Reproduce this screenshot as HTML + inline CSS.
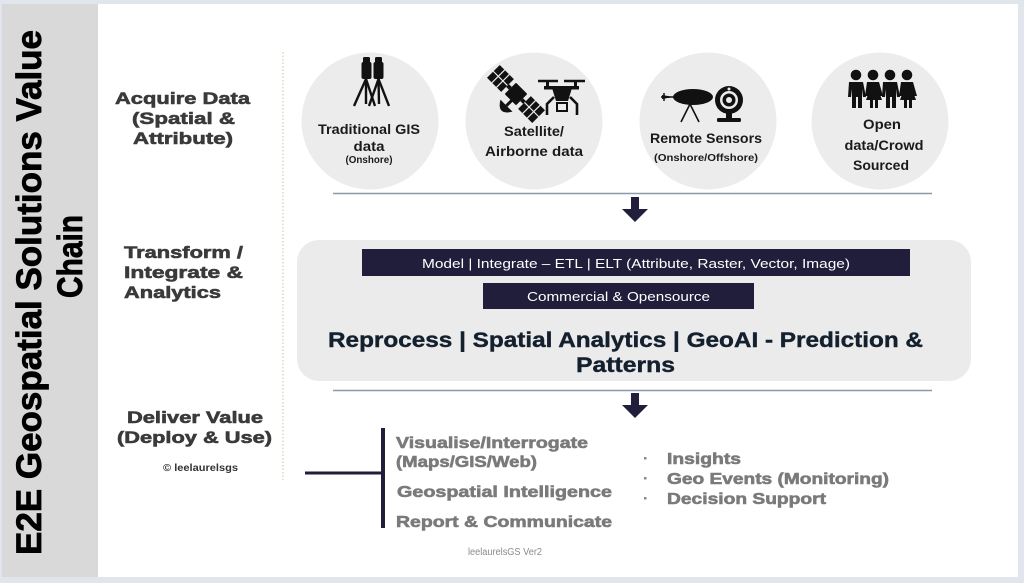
<!DOCTYPE html>
<html>
<head>
<meta charset="utf-8">
<style>
html,body{margin:0;padding:0;background:#e1e6ec;}
svg{display:block;}
text{font-family:"Liberation Sans",Arial,sans-serif;}
</style>
</head>
<body>
<svg width="1024" height="583" viewBox="0 0 1024 583" xmlns="http://www.w3.org/2000/svg">
  <!-- frame -->
  <rect x="0" y="0" width="1024" height="583" fill="#e1e6ec"/>
  <rect x="98" y="4" width="920" height="573" fill="#ffffff"/>
  <rect x="2" y="4" width="96" height="573" fill="#d9d9d9"/>

  <!-- vertical title -->
  <g fill="#000" stroke="#000" stroke-width="0.8">
  <text transform="translate(41,555) rotate(-90)" font-size="35" font-weight="bold" textLength="525" lengthAdjust="spacingAndGlyphs">E2E Geospatial Solutions Value</text>
  <text transform="translate(82,298) rotate(-90)" font-size="35" font-weight="bold" textLength="83" lengthAdjust="spacingAndGlyphs">Chain</text>
  </g>

  <!-- left labels -->
  <g font-size="17" font-weight="bold" fill="#3a3a3a" stroke="#3a3a3a" stroke-width="0.6">
    <text x="115" y="104" textLength="135" lengthAdjust="spacingAndGlyphs">Acquire Data</text>
    <text x="132" y="124" textLength="103" lengthAdjust="spacingAndGlyphs">(Spatial &amp;</text>
    <text x="133" y="144" textLength="100" lengthAdjust="spacingAndGlyphs">Attribute)</text>
    <text x="124" y="258" textLength="119" lengthAdjust="spacingAndGlyphs">Transform /</text>
    <text x="124" y="278" textLength="119" lengthAdjust="spacingAndGlyphs">Integrate &amp;</text>
    <text x="124" y="298" textLength="97" lengthAdjust="spacingAndGlyphs">Analytics</text>
    <text x="127" y="423" textLength="136" lengthAdjust="spacingAndGlyphs">Deliver Value</text>
    <text x="117" y="443" textLength="155" lengthAdjust="spacingAndGlyphs">(Deploy &amp; Use)</text>
  </g>
  <text x="163" y="471" font-size="10" font-weight="bold" fill="#333" textLength="75" lengthAdjust="spacingAndGlyphs">© leelaurelsgs</text>

  <!-- dotted divider -->
  <line x1="283" y1="52" x2="283" y2="480" stroke="#d5bf9e" stroke-width="1" stroke-dasharray="1.5 2"/>

  <!-- circles -->
  <g fill="#ececec">
    <circle cx="370" cy="121" r="68.5"/>
    <circle cx="534" cy="121" r="68.5"/>
    <circle cx="708" cy="121" r="68.5"/>
    <circle cx="880" cy="121" r="68.5"/>
  </g>

  <!-- icon 1: survey tripods -->
  <g fill="#111" stroke="#111">
    <rect x="363" y="57" width="7" height="6" rx="1.5" stroke="none"/>
    <rect x="361.5" y="62" width="10" height="17" rx="2" stroke="none"/>
    <rect x="375" y="57" width="7" height="6" rx="1.5" stroke="none"/>
    <rect x="373.5" y="62" width="10" height="17" rx="2" stroke="none"/>
    <g stroke-width="2.4" fill="none">
      <line x1="366" y1="79" x2="354" y2="106"/>
      <line x1="366" y1="79" x2="366" y2="104"/>
      <line x1="366" y1="79" x2="375" y2="106"/>
      <line x1="378.5" y1="79" x2="369" y2="106"/>
      <line x1="378.5" y1="79" x2="379" y2="104"/>
      <line x1="378.5" y1="79" x2="389" y2="106"/>
    </g>
  </g>

  <!-- icon 2: satellite + drone -->
  <g transform="translate(516,94) rotate(45)" fill="#111">
    <rect x="-32" y="-9" width="20" height="18"/>
    <g stroke="#ececec" stroke-width="1.2">
      <line x1="-25" y1="-9" x2="-25" y2="9"/>
      <line x1="-18.5" y1="-9" x2="-18.5" y2="9"/>
      <line x1="-32" y1="0" x2="-12" y2="0"/>
    </g>
    <rect x="-12" y="-2" width="4" height="4"/>
    <rect x="-8" y="-8" width="16" height="16" rx="1"/>
    <rect x="8" y="-2" width="4" height="4"/>
    <rect x="12" y="-9" width="20" height="18"/>
    <g stroke="#ececec" stroke-width="1.2">
      <line x1="18.5" y1="-9" x2="18.5" y2="9"/>
      <line x1="25" y1="-9" x2="25" y2="9"/>
      <line x1="12" y1="0" x2="32" y2="0"/>
    </g>
    <rect x="0" y="7" width="3" height="8"/>
    <path d="M-7,15 Q1.5,29 10,15 Z"/>
  </g>
  <g fill="#111" stroke="#111">
    <line x1="538" y1="81" x2="558" y2="81" stroke-width="2.5"/>
    <line x1="564" y1="81" x2="585" y2="81" stroke-width="2.5"/>
    <rect x="546" y="81" width="3" height="6" stroke="none"/>
    <rect x="574" y="81" width="3" height="6" stroke="none"/>
    <rect x="544" y="86" width="35" height="3.5" stroke="none"/>
    <path d="M552,88 L572,88 L568,101 L556,101 Z" stroke="none"/>
    <g stroke-width="2.6" fill="none">
      <path d="M554,97 L547,104 L547,115"/>
      <path d="M570,97 L577,104 L577,115"/>
    </g>
    <rect x="557" y="103" width="10" height="8" fill="none" stroke-width="2"/>
  </g>

  <!-- icon 3: sensor + webcam -->
  <g fill="#111" stroke="#111">
    <ellipse cx="693" cy="97" rx="20" ry="8" stroke="none"/>
    <path d="M674,97 L662,95 L662,99 Z" stroke="none"/>
    <line x1="661" y1="97" x2="675" y2="97" stroke-width="1.5"/>
    <line x1="664" y1="93" x2="664" y2="101" stroke-width="1.5"/>
    <g stroke-width="1.6">
      <line x1="690" y1="104" x2="681" y2="122"/>
      <line x1="690" y1="104" x2="699" y2="122"/>
    </g>
    <circle cx="729" cy="100" r="14" stroke="none"/>
    <circle cx="729" cy="100" r="9" fill="#ececec" stroke="none"/>
    <circle cx="729" cy="100" r="6.5" stroke="none"/>
    <circle cx="729" cy="100" r="3" fill="#ececec" stroke="none"/>
    <circle cx="729" cy="89" r="1.5" fill="#ececec" stroke="none"/>
    <rect x="726" y="113" width="6" height="6" stroke="none"/>
    <rect x="717" y="118" width="24" height="4" rx="1.5" stroke="none"/>
  </g>

  <!-- icon 4: people -->
  <g fill="#111">
    <circle cx="856" cy="75" r="5.3"/>
    <circle cx="873" cy="75" r="5.3"/>
    <circle cx="890" cy="75" r="5.3"/>
    <circle cx="907" cy="75" r="5.3"/>
    <path d="M849,82 h14 l3,15 h-3 l-1,-8 v19 h-4 v-11 h-2 v11 h-4 v-19 l-1,8 h-3 z"/>
    <path d="M867,82 h12 l4,14 h-3 l-2,-7 l4,11 h-4 v8 h-3 v-8 h-2 v8 h-3 v-8 h-4 l4,-11 l-2,7 h-3 z"/>
    <path d="M883,82 h14 l3,15 h-3 l-1,-8 v19 h-4 v-11 h-2 v11 h-4 v-19 l-1,8 h-3 z"/>
    <path d="M901,82 h12 l4,14 h-3 l-2,-7 l4,11 h-4 v8 h-3 v-8 h-2 v8 h-3 v-8 h-4 l4,-11 l-2,7 h-3 z"/>
  </g>

  <!-- circle labels -->
  <g font-size="14" font-weight="bold" fill="#1a1a1a" text-anchor="middle">
    <text x="369" y="134" textLength="102" lengthAdjust="spacingAndGlyphs">Traditional GIS</text>
    <text x="369" y="151" textLength="31" lengthAdjust="spacingAndGlyphs">data</text>
    <text x="534" y="136" textLength="60" lengthAdjust="spacingAndGlyphs">Satellite/</text>
    <text x="534" y="156" textLength="98" lengthAdjust="spacingAndGlyphs">Airborne data</text>
    <text x="706" y="143" textLength="112" lengthAdjust="spacingAndGlyphs">Remote Sensors</text>
    <text x="882" y="129" textLength="38" lengthAdjust="spacingAndGlyphs">Open</text>
    <text x="884" y="150" textLength="79" lengthAdjust="spacingAndGlyphs">data/Crowd</text>
    <text x="881" y="170" textLength="56" lengthAdjust="spacingAndGlyphs">Sourced</text>
  </g>
  <g font-size="10" font-weight="bold" fill="#1a1a1a" text-anchor="middle">
    <text x="369" y="163" textLength="47" lengthAdjust="spacingAndGlyphs">(Onshore)</text>
    <text x="706" y="161" textLength="104" lengthAdjust="spacingAndGlyphs">(Onshore/Offshore)</text>
  </g>

  <!-- separator lines -->
  <line x1="333" y1="193.5" x2="932" y2="193.5" stroke="#8a9aaa" stroke-width="1.5"/>
  <line x1="333" y1="390.5" x2="932" y2="390.5" stroke="#8a9aaa" stroke-width="1.5"/>

  <!-- arrows -->
  <path d="M631,197 h8 v12 h9 l-13,13 l-13,-13 h9 z" fill="#201e3a"/>
  <path d="M631,393 h8 v12 h9 l-13,13 l-13,-13 h9 z" fill="#201e3a"/>

  <!-- transform box -->
  <rect x="297" y="240" width="674" height="141" rx="22" fill="#ebebeb"/>
  <rect x="362" y="249" width="548" height="27" fill="#201e3a"/>
  <rect x="483" y="283" width="271" height="26" fill="#201e3a"/>
  <text x="422" y="268" font-size="13" fill="#ffffff" textLength="428" lengthAdjust="spacingAndGlyphs">Model | Integrate – ETL | ELT (Attribute, Raster, Vector, Image)</text>
  <text x="527" y="301" font-size="13" fill="#ffffff" textLength="183" lengthAdjust="spacingAndGlyphs">Commercial &amp; Opensource</text>
  <g font-size="21" font-weight="bold" fill="#14202e" stroke="#14202e" stroke-width="0.4">
    <text x="328" y="347" textLength="595" lengthAdjust="spacingAndGlyphs">Reprocess | Spatial Analytics | GeoAI - Prediction &amp;</text>
    <text x="576" y="372" textLength="99" lengthAdjust="spacingAndGlyphs">Patterns</text>
  </g>

  <!-- deliver section -->
  <rect x="305" y="471.5" width="78" height="3" fill="#201e3a"/>
  <rect x="381" y="428" width="4" height="100" fill="#201e3a"/>
  <g font-size="16" font-weight="bold" fill="#7a7a7a" stroke="#7a7a7a" stroke-width="0.6">
    <text x="396" y="448" textLength="192" lengthAdjust="spacingAndGlyphs">Visualise/Interrogate</text>
    <text x="396" y="467" textLength="141" lengthAdjust="spacingAndGlyphs">(Maps/GIS/Web)</text>
    <text x="397" y="497" textLength="215" lengthAdjust="spacingAndGlyphs">Geospatial Intelligence</text>
    <text x="396" y="527" textLength="216" lengthAdjust="spacingAndGlyphs">Report &amp; Communicate</text>
    <text x="667" y="464" textLength="74" lengthAdjust="spacingAndGlyphs">Insights</text>
    <text x="667" y="484" textLength="222" lengthAdjust="spacingAndGlyphs">Geo Events (Monitoring)</text>
    <text x="667" y="504" textLength="159" lengthAdjust="spacingAndGlyphs">Decision Support</text>
  </g>
  <g fill="#8a8a8a">
    <rect x="644" y="457" width="2.5" height="2.5"/>
    <rect x="644" y="477" width="2.5" height="2.5"/>
    <rect x="644" y="497" width="2.5" height="2.5"/>
  </g>
  <text x="468" y="555" font-size="10" fill="#8a8a8a" textLength="74" lengthAdjust="spacingAndGlyphs">leelaurelsGS Ver2</text>
</svg>
</body>
</html>
